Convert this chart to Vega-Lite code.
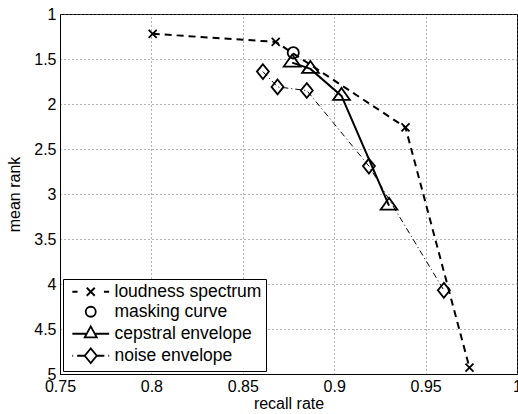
{
  "$schema": "https://vega.github.io/schema/vega-lite/v6.json",
  "width": 457,
  "height": 360,
  "autosize": "none",
  "padding": {"left": 60, "top": 14, "right": 1, "bottom": 40},
  "background": "white",
  "config": {
    "font": "Liberation Sans",
    "view": {"stroke": "black", "strokeWidth": 1},
    "axis": {
      "labelFont": "Liberation Sans", "labelFontSize": 16, "labelColor": "black",
      "titleFont": "Liberation Sans", "titleFontSize": 16, "titleFontWeight": "normal", "titleColor": "black",
      "domainColor": "black", "ticks": false, "labelPadding": 4,
      "gridColor": "#666", "gridDash": [1, 3], "gridOpacity": 1, "gridWidth": 1,
      "labelFlush": false, "labelOverlap": false
    },
    "legend": {
      "labelFont": "Liberation Sans", "labelFontSize": 17.5, "labelColor": "black", "labelLimit": 0,
      "strokeColor": "black", "fillColor": "white", "padding": 4, "rowPadding": 1,
      "symbolSize": 64, "symbolStrokeWidth": 1.8, "symbolStrokeColor": "black", "symbolFillColor": "transparent",
      "symbolOffset": 15, "labelOffset": 15
    }
  },
  "data": {
    "values": [
      {"series": "loudness spectrum", "x": 0.8007, "y": 1.22, "o": 1},
      {"series": "loudness spectrum", "x": 0.868, "y": 1.31, "o": 2},
      {"series": "loudness spectrum", "x": 0.939, "y": 2.26, "o": 3},
      {"series": "loudness spectrum", "x": 0.974, "y": 4.93, "o": 4},
      {"series": "masking curve", "x": 0.8776, "y": 1.43, "o": 1},
      {"series": "cepstral envelope", "x": 0.877, "y": 1.54, "o": 1},
      {"series": "cepstral envelope", "x": 0.887, "y": 1.61, "o": 2},
      {"series": "cepstral envelope", "x": 0.904, "y": 1.91, "o": 3},
      {"series": "cepstral envelope", "x": 0.930, "y": 3.13, "o": 4},
      {"series": "noise envelope", "x": 0.861, "y": 1.64, "o": 1},
      {"series": "noise envelope", "x": 0.869, "y": 1.81, "o": 2},
      {"series": "noise envelope", "x": 0.885, "y": 1.85, "o": 3},
      {"series": "noise envelope", "x": 0.919, "y": 2.69, "o": 4},
      {"series": "noise envelope", "x": 0.960, "y": 4.07, "o": 5}
    ]
  },
  "encoding": {
    "x": {
      "field": "x", "type": "quantitative",
      "scale": {"domain": [0.75, 1], "nice": false, "zero": false},
      "axis": {"title": "recall rate", "values": [0.75, 0.8, 0.85, 0.9, 0.95, 1], "format": "~g", "titlePadding": 1}
    },
    "y": {
      "field": "y", "type": "quantitative",
      "scale": {"domain": [1, 5], "nice": false, "zero": false, "reverse": true},
      "axis": {"title": "mean rank", "values": [1, 1.5, 2, 2.5, 3, 3.5, 4, 4.5, 5], "format": "~g", "titlePadding": 11}
    }
  },
  "layer": [
    {
      "transform": [{"filter": "datum.series === 'loudness spectrum'"}],
      "mark": {"type": "line", "color": "black", "strokeWidth": 2, "strokeDash": [7, 5]},
      "encoding": {"order": {"field": "o"}}
    },
    {
      "transform": [{"filter": "datum.series === 'cepstral envelope'"}],
      "mark": {"type": "line", "color": "black", "strokeWidth": 2},
      "encoding": {"order": {"field": "o"}}
    },
    {
      "transform": [{"filter": "datum.series === 'noise envelope'"}],
      "mark": {"type": "line", "color": "black", "strokeWidth": 1, "strokeDash": [6, 3, 1, 3]},
      "encoding": {"order": {"field": "o"}}
    },
    {
      "mark": {"type": "point", "filled": false, "color": "black", "opacity": 1, "strokeWidth": 1.8, "size": 64},
      "encoding": {
        "shape": {
          "field": "series", "type": "nominal",
          "scale": {
            "domain": ["loudness spectrum", "masking curve", "cepstral envelope", "noise envelope"],
            "range": [
              "M-1,-1L1,1M-1,1L1,-1",
              "M1.4,0A1.4,1.4 0 1,1 -1.4,0A1.4,1.4 0 1,1 1.4,0Z",
              "M0,-2L2.1,1L-2.1,1Z",
              "M0,-1.85L1.5,0L0,1.85L-1.5,0Z"
            ]
          },
          "legend": null
        }
      }
    },
    {
      "transform": [{"filter": "false"}],
      "mark": {"type": "point", "filled": false, "color": "black", "opacity": 1, "strokeWidth": 1.8, "size": 64},
      "encoding": {
        "shape": {
          "field": "series", "type": "nominal",
          "scale": {
            "domain": ["loudness spectrum", "masking curve", "cepstral envelope", "noise envelope"],
            "range": [
              "M-4.6,0L-3.3,0M3.3,0L4.6,0M-1,-1L1,1M-1,1L1,-1",
              "M1.25,0A1.25,1.25 0 1,1 -1.25,0A1.25,1.25 0 1,1 1.25,0Z",
              "M-4.6,0L-1.2,0M1.2,0L4.6,0M0,-1.85L1.5,0.9L-1.5,0.9Z",
              "M-4.6,0L-4.4,0M-3.4,0L-1.5,0M1.5,0L3.4,0M4.4,0L4.6,0M0,-1.85L1.5,0L0,1.85L-1.5,0Z"
            ]
          },
          "legend": {"title": null, "orient": "bottom-left", "offset": 3}
        }
      }
    }
  ],
  "resolve": {"scale": {"shape": "independent"}}
}
